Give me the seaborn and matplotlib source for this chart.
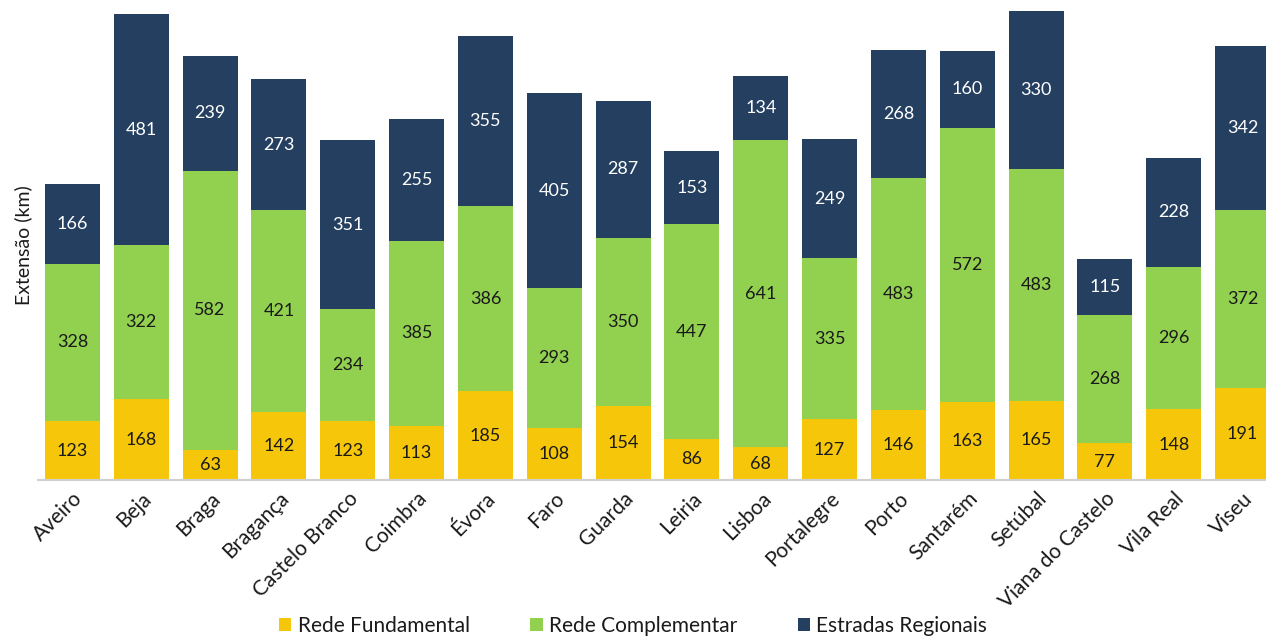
import matplotlib
matplotlib.use("Agg")
import matplotlib.pyplot as plt
from matplotlib.patches import Patch
import seaborn as sns
import pandas as pd
import numpy as np

distritos = ["Aveiro", "Beja", "Braga", "Bragança", "Castelo Branco", "Coimbra",
             "Évora", "Faro", "Guarda", "Leiria", "Lisboa", "Portalegre", "Porto",
             "Santarém", "Setúbal", "Viana do Castelo", "Vila Real", "Viseu"]
rede_fundamental = [123, 168, 63, 142, 123, 113, 185, 108, 154, 86, 68, 127, 146, 163, 165, 77, 148, 191]
rede_complementar = [328, 322, 582, 421, 234, 385, 386, 293, 350, 447, 641, 335, 483, 572, 483, 268, 296, 372]
estradas_regionais = [166, 481, 239, 273, 351, 255, 355, 405, 287, 153, 134, 249, 268, 160, 330, 115, 228, 342]

series = ["Rede Fundamental", "Rede Complementar", "Estradas Regionais"]
cores = ["#F5C60A", "#92D050", "#243F60"]
cores_texto = ["#1a1a1a", "#1a1a1a", "white"]

sns.set_theme(style="white")
plt.rcParams["font.family"] = ["Lato", "DejaVu Sans"]

df = pd.DataFrame({
    "Distrito": distritos,
    series[0]: rede_fundamental,
    series[1]: rede_complementar,
    series[2]: estradas_regionais,
})

fig = plt.figure(figsize=(12.66, 6.39), dpi=100)
ax = fig.add_axes([38 / 1266, (639 - 480) / 639, 1 - 38 / 1266, (480 - 10) / 639])

base = np.zeros(len(distritos))
for nome, cor, ct in zip(series, cores, cores_texto):
    vals = df[nome].to_numpy()
    sns.barplot(data=df, x="Distrito", y=nome, color=cor, bottom=base,
                width=0.8, ax=ax, saturation=1, edgecolor="none", legend=False)
    for i, v in enumerate(vals):
        ax.text(i, base[i] + v / 2, f"{v}", ha="center", va="center",
                fontsize=13, color=ct)
    base = base + vals

ax.set_xlim(-0.5, 17.34)
ax.set_ylim(0, 980)
ax.set_yticks([])
ax.set_xlabel("")
ax.set_ylabel("Extensão (km)", fontsize=14, color="#1a1a1a", labelpad=4)
for s in ["top", "right", "left"]:
    ax.spines[s].set_visible(False)
ax.spines["bottom"].set_color("#d0d0d0")
ax.spines["bottom"].set_linewidth(1.5)
ax.tick_params(axis="x", length=0, pad=6)
plt.setp(ax.get_xticklabels(), rotation=45, ha="right", rotation_mode="anchor",
         fontsize=15, color="#1a1a1a")

handles = [Patch(facecolor=c, edgecolor="none") for c in cores]
leg = fig.legend(handles, series, loc="lower center", ncol=3, frameon=False,
                 fontsize=15, bbox_to_anchor=(0.5, -0.025), handlelength=0.6,
                 handleheight=0.6, handletextpad=0.3, columnspacing=2.9,
                 bbox_transform=fig.transFigure)
for t in leg.get_texts():
    t.set_color("#1a1a1a")

fig.savefig("out.png", dpi=100)
